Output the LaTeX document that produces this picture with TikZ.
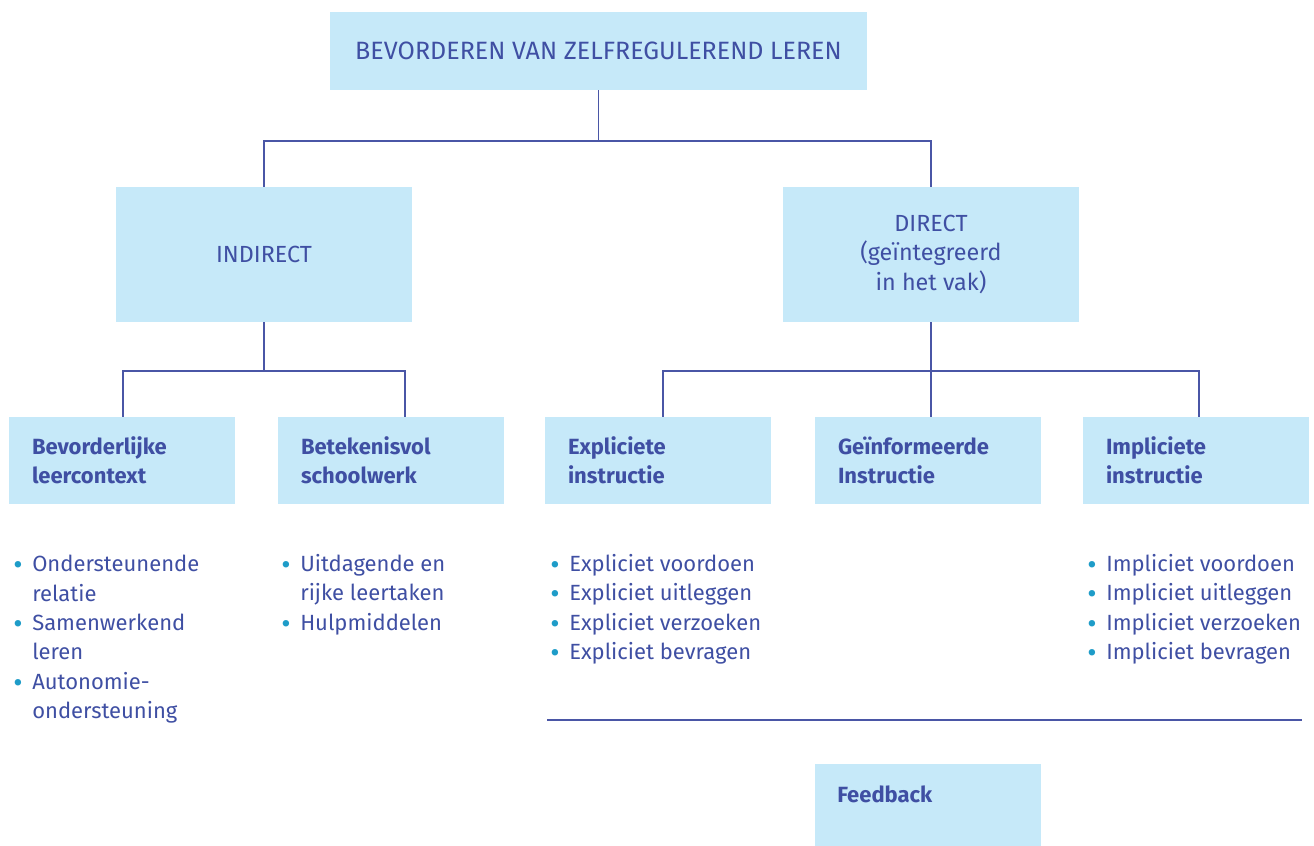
\documentclass[tikz,border=0pt]{standalone}
\usepackage{fontspec}
\setmainfont{Fira Sans}
\usepackage{graphicx}
\definecolor{boxfill}{HTML}{C6E9F9}
\definecolor{ink}{HTML}{3F4FA3}
\definecolor{linec}{HTML}{4A56A6}
\definecolor{bul}{HTML}{1E9CC8}
\newcommand{\bi}{\makebox[14.25pt][l]{\textcolor{bul}{\raisebox{-0.25ex}{\scalebox{1.3}{\textbullet}}}}}
\newcommand{\ci}{\hspace*{14.25pt}}
\begin{document}
\begin{tikzpicture}[x=0.75pt,y=-0.75pt,
  every node/.style={text=ink, font=\fontsize{16.5}{22.1}\selectfont},
  box/.style={fill=boxfill, draw=none, inner sep=0pt},
  topbox/.style={box, minimum width=402.75pt, minimum height=58.5pt, align=center, font=\fontsize{18.8}{22.1}\selectfont},
  midbox/.style={box, minimum width=222pt, minimum height=101.25pt, align=center, font=\fontsize{17.5}{22.1}\selectfont},
  catbox/.style={box, minimum width=169.5pt, minimum height=65.25pt, text width=135pt, inner xsep=17.25pt, align=left, font=\fontsize{16.5}{22.1}\selectfont\bfseries},
  listnode/.style={inner sep=0pt, align=left, anchor=base west},
  conn/.style={draw=linec, line width=0.8pt}]
\useasboundingbox (0,0) rectangle (1314,846);
% boxes
\node[topbox] (top) at (598.5,51) {BEVORDEREN VAN ZELFREGULEREND LEREN};
\node[midbox] (ind) at (264,254.5) {INDIRECT};
\node[midbox] (dir) at (931,254.5) {DIRECT\\(geïntegreerd\\in het vak)};
\node[catbox] (c1) at (122,460.5) {Bevorderlijke\\leercontext};
\node[catbox] (c2) at (391,460.5) {Betekenisvol\\schoolwerk};
\node[catbox] (c3) at (658,460.5) {Expliciete\\instructie};
\node[catbox] (c4) at (928,460.5) {Geïnformeerde\\Instructie};
\node[catbox] (c5) at (1196,460.5) {Impliciete\\instructie};
\node[box, minimum width=169.5pt, minimum height=61.5pt] (fb) at (928,805) {};
\node[inner sep=0pt, anchor=base west, font=\fontsize{16.5}{22.1}\selectfont\bfseries] (fbt) at (837,802) {Feedback};
% connectors
\coordinate (j1) at (597,141);
\coordinate (j2) at (264,371);
\coordinate (j3) at (931,371);
\coordinate (k1) at (123,371);
\coordinate (k2) at (405,371);
\coordinate (k3) at (663,371);
\coordinate (k5) at (1199,371);
\draw[conn] (top.south) -- (top.south |- j1);
\draw[conn] (ind.north) -- (ind.north |- j1) -- (dir.north |- j1) -- (dir.north);
\draw[conn] (ind.south) -- (j2);
\draw[conn] (c1.north -| k1) -- (k1) -- (k2) -- (c2.north -| k2);
\draw[conn] (dir.south) -- (j3);
\draw[conn] (c3.north -| k3) -- (k3) -- (k5) -- (c5.north -| k5);
\draw[conn] (j3) -- (c4.north -| j3);
\coordinate (h1) at (547,720);
\coordinate (h2) at (1302,720);
\draw[conn, line width=1.1pt] (h1) -- (h2);
% lists (anchored at the baseline of their last line)
\node[listnode] (l1) at (13,718.9) {\bi Ondersteunende\\\ci relatie\\\bi Samenwerkend\\\ci leren\\\bi Autonomie-\\\ci ondersteuning};
\node[listnode] (l2) at (281,630.4) {\bi Uitdagende en\\\ci rijke leertaken\\\bi Hulpmiddelen};
\node[listnode] (l3) at (550,659.9) {\bi Expliciet voordoen\\\bi Expliciet uitleggen\\\bi Expliciet verzoeken\\\bi Expliciet bevragen};
\node[listnode] (l5) at (1087,659.9) {\bi Impliciet voordoen\\\bi Impliciet uitleggen\\\bi Impliciet verzoeken\\\bi Impliciet bevragen};
\end{tikzpicture}
\end{document}
